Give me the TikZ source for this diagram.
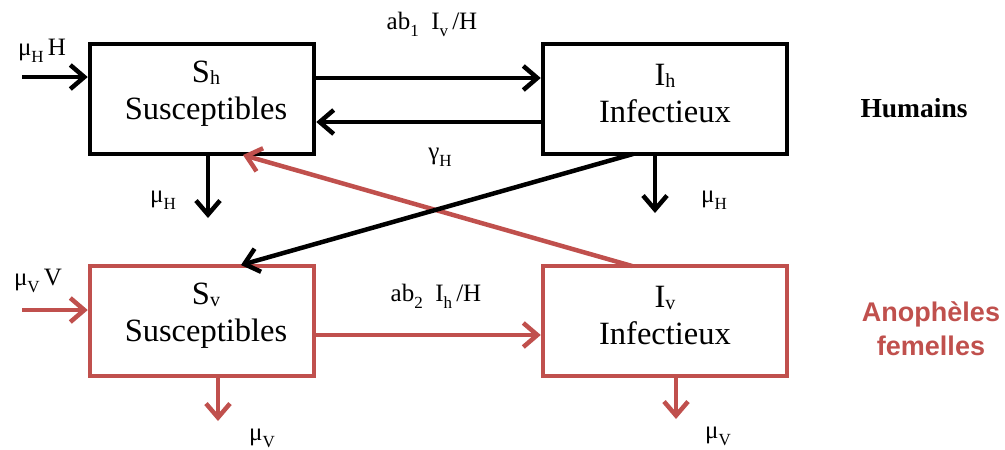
\documentclass[tikz,border=0pt]{standalone}
\usepackage{fontspec}
\setmainfont{Liberation Serif}
\newfontfamily\sansfam{Liberation Sans}
\usetikzlibrary{arrows.meta}
\definecolor{myred}{RGB}{192,80,77}
\newcommand\lsub[1]{\raisebox{-0.28em}{\fontsize{17}{17}\selectfont #1}}
\newcommand\bsub[1]{\raisebox{-0.05em}{\fontsize{20}{20}\selectfont #1}}
\begin{document}
\begin{tikzpicture}[x=1pt,y=-1pt,
  compbox/.style={draw, line width=4.5pt, minimum width=#1, minimum height=110pt, inner sep=0pt},
  redbox/.style={compbox=#1, draw=myred},
  boxtext/.style={font=\fontsize{32.5}{37}\selectfont, align=center, inner sep=0pt},
  flow/.style={line width=4.5pt, -{Straight Barb[length=14pt,width=24pt]}},
  redflow/.style={flow, draw=myred},
  rate/.style={font=\fontsize{25}{29}\selectfont, inner sep=0pt},
  grouplab/.style={font=\fontsize{27.5}{31}\selectfont\bfseries, inner sep=0pt}]
\useasboundingbox (0,0) rectangle (1005,450);

% compartments
\node[compbox=224pt] (sh) at (202,99) {};
\node[compbox=244pt] (ih) at (665,99) {};
\node[redbox=224pt]  (sv) at (202,321) {};
\node[redbox=244pt]  (iv) at (665,321) {};

\node[boxtext] (shl) at (206,94) {S\bsub{h}\\Susceptibles};
\node[boxtext] (ihl) at (665,94) {I\bsub{h}\\Infectieux};
\node[boxtext] (svl) at (206,316) {S\bsub{v}\\Susceptibles};
\node[boxtext] (ivl) at (665,316) {I\bsub{v}\\Infectieux};

% helper coordinates
\coordinate (inH) at (22,77);
\coordinate (inV) at (22,310);
\coordinate (yA) at (0,78);
\coordinate (yB) at (0,122);
\coordinate (yC) at (0,335);
\coordinate (shd) at (208,154);
\coordinate (shdE) at (208,218);
\coordinate (ihd) at (655,154);
\coordinate (ihdE) at (655,213);
\coordinate (svd) at (218,376);
\coordinate (svdE) at (218,421);
\coordinate (ivd) at (676,376);
\coordinate (ivdE) at (676,419);
\coordinate (ihx) at (633,154);
\coordinate (svx) at (241,265);
\coordinate (ivx) at (632,266);
\coordinate (shx) at (243,155);

% humans
\draw[flow] (inH) -- (inH -| sh.west);
\draw[flow] (sh.east |- yA) -- (ih.west |- yA);
\draw[flow] (ih.west |- yB) -- (sh.east |- yB);
\draw[flow] (shd) -- (shdE);
\draw[flow] (ihd) -- (ihdE);
% cross infections
\draw[redflow] (ivx) -- (shx);
\draw[flow] (ihx) -- (svx);
% vectors
\draw[redflow] (inV) -- (inV -| sv.west);
\draw[redflow] (sv.east |- yC) -- (iv.west |- yC);
\draw[redflow] (svd) -- (svdE);
\draw[redflow] (ivd) -- (ivdE);

% rates
\node[rate] (rinH) at (42,51) {μ\lsub{H}\,H};
\node[rate] (rab1) at (432,24) {ab\lsub{1}\ \ I\lsub{v}\,/H};
\node[rate] (rgam) at (440,157) {γ\lsub{H}};
\node[rate] (rmh1) at (163,200) {μ\lsub{H}};
\node[rate] (rmh2) at (714,200) {μ\lsub{H}};
\node[rate] (rinV) at (38,281) {μ\lsub{V}\,V};
\node[rate] (rab2) at (436,296) {ab\lsub{2}\ \ I\lsub{h}\,/H};
\node[rate] (rmv1) at (262,438) {μ\lsub{V}};
\node[rate] (rmv2) at (718,436) {μ\lsub{V}};

% group labels
\node[grouplab] (hum) at (914,108) {Humains};
\node[grouplab, text=myred, font=\fontsize{27}{34}\selectfont\sansfam\bfseries, align=center] (ano) at (931,329) {Anophèles\\femelles};
\end{tikzpicture}
\end{document}
